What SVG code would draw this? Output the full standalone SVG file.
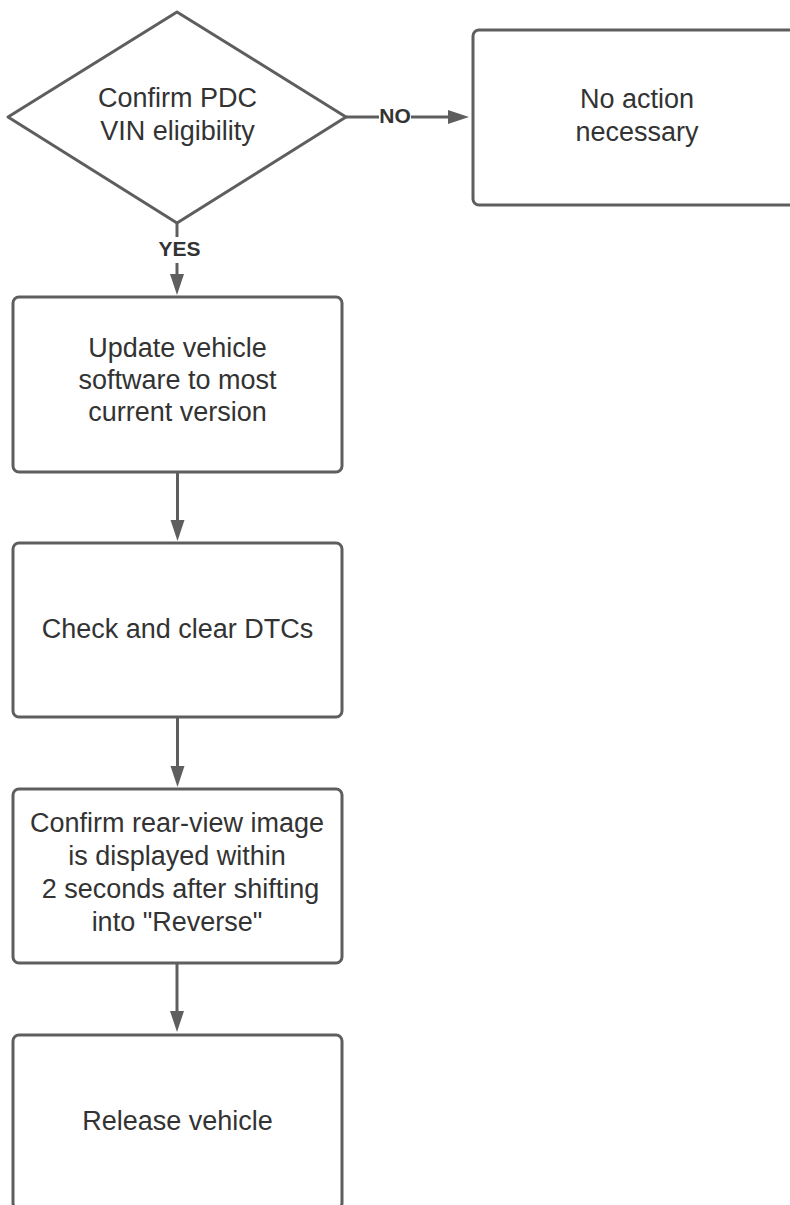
<svg xmlns="http://www.w3.org/2000/svg" width="790" height="1205" viewBox="0 0 790 1205">
<style>
.shape{fill:#fff;stroke:#5e5e5e;stroke-width:3;stroke-linejoin:round}
.lbl{font-family:"Liberation Sans",Arial,sans-serif;font-size:27px;fill:#333;text-anchor:middle}
.edge{stroke:#5e5e5e;stroke-width:3;fill:none}
.elbl{font-family:"Liberation Sans",Arial,sans-serif;font-size:21px;font-weight:bold;fill:#333;text-anchor:middle}
.lblbg{fill:#fff}
</style>
<defs>
<marker id="arrow" markerUnits="userSpaceOnUse" markerWidth="22" markerHeight="16" refX="0" refY="7" orient="auto">
<path d="M0,0 L21,7 L0,14 z" fill="#5e5e5e"/>
</marker>
</defs>
<rect x="0" y="0" width="790" height="1205" fill="#fff"/>
<g id="connectors">
<path class="edge" d="M346,117 H448" marker-end="url(#arrow)"/>
<rect class="lblbg" x="379" y="107" width="32" height="19"/>
<text class="elbl" x="395" y="123">NO</text>
<path class="edge" d="M177,223 V274" marker-end="url(#arrow)"/>
<rect class="lblbg" x="157" y="237" width="44" height="26"/>
<text class="elbl" x="179.5" y="256">YES</text>
<path class="edge" d="M177.5,472 V520" marker-end="url(#arrow)"/>
<path class="edge" d="M177.5,717 V766" marker-end="url(#arrow)"/>
<path class="edge" d="M177,963 V1011" marker-end="url(#arrow)"/>
</g>
<g id="decision">
<polygon class="shape" points="177,12 346,117 177,223 8,117"/>
<text class="lbl" x="177.5" y="107">Confirm PDC</text>
<text class="lbl" x="177.5" y="140">VIN eligibility</text>
</g>
<g id="no-action">
<rect class="shape" x="473" y="30" width="328" height="175" rx="6"/>
<text class="lbl" x="637" y="108">No action</text>
<text class="lbl" x="637" y="141">necessary</text>
</g>
<g id="update-software">
<rect class="shape" x="13" y="297" width="329" height="175" rx="6"/>
<text class="lbl" x="177.5" y="357">Update vehicle</text>
<text class="lbl" x="177.5" y="389">software to most</text>
<text class="lbl" x="177.5" y="421">current version</text>
</g>
<g id="check-dtcs">
<rect class="shape" x="13" y="543" width="329" height="174" rx="6"/>
<text class="lbl" x="177.5" y="638">Check and clear DTCs</text>
</g>
<g id="confirm-rearview">
<rect class="shape" x="13" y="789" width="329" height="174" rx="6"/>
<text class="lbl" x="177" y="832">Confirm rear-view image</text>
<text class="lbl" x="177" y="865">is displayed within</text>
<text class="lbl" x="180.5" y="898">2 seconds after shifting</text>
<text class="lbl" x="177" y="931">into "Reverse"</text>
</g>
<g id="release-vehicle">
<rect class="shape" x="13" y="1035" width="329" height="174" rx="6"/>
<text class="lbl" x="177.5" y="1130">Release vehicle</text>
</g>
</svg>
